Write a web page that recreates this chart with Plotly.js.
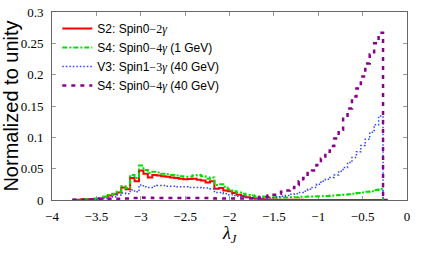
<!DOCTYPE html>
<html><head><meta charset="utf-8">
<script src="https://cdn.plot.ly/plotly-3.0.1.min.js"></script>
<style>html,body{margin:0;padding:0;background:#fff}#chart{width:425px;height:255px}</style>
</head><body><div id="chart"></div>
<script>
// Histogram binning (lambda_J)
const binStart = -3.77;
const binWidth = 0.05;

const seriesNames = [
  "S2: Spin0<span style='font-family:Liberation Serif'>−2<i>γ</i></span>",
  "S4: Spin0<span style='font-family:Liberation Serif'>−4<i>γ</i></span> (1 GeV)",
  "V3: Spin1<span style='font-family:Liberation Serif'>−3<i>γ</i></span> (40 GeV)",
  "S4: Spin0<span style='font-family:Liberation Serif'>−4<i>γ</i></span> (40 GeV)"
];
const xTitle = '<i>λ</i><sub><i>J</i></sub>';
const yTitle = 'Normalized to unity';

const s2Spin0_2g = [
  0.0005,0.0005,0.001,0.001,0.0015,0.002,0.003,0.005,0.007,0.009,
  0.012,0.020,0.017,0.035,0.030,0.047,0.042,0.036,0.040,0.039,
  0.038,0.037,0.036,0.035,0.034,0.033,0.0335,0.034,0.0325,0.031,
  0.028,0.030,0.018,0.019,0.015,0.014,0.011,0.0085,0.0065,0.0045,
  0.003,0.002,0.0015,0.001,0.0008,0.0006,0.0005,0.0004,0.0003,0.0003,
  0.0002,0.0002,0.0001,0.0001,0.0001,0,0,0,0,0,
  0,0,0,0,0,0,0,0,0,0,0
];
const s4Spin0_4g_1GeV = [
  0.0003,0.0005,0.001,0.001,0.0015,0.002,0.003,0.005,0.008,0.010,
  0.013,0.022,0.019,0.040,0.035,0.055,0.048,0.043,0.045,0.044,
  0.042,0.041,0.040,0.039,0.038,0.037,0.037,0.039,0.040,0.038,
  0.034,0.036,0.024,0.025,0.021,0.017,0.014,0.012,0.010,0.008,
  0.007,0.006,0.0055,0.005,0.0045,0.0045,0.004,0.004,0.004,0.0042,
  0.0045,0.005,0.005,0.0055,0.0055,0.006,0.006,0.0065,0.007,0.0075,
  0.008,0.0085,0.009,0.010,0.011,0.012,0.013,0.014,0.016,0.0175,0
];
const v3Spin1_3g_40GeV = [
  0.0002,0.0003,0.0005,0.0005,0.001,0.001,0.0015,0.002,0.003,0.005,
  0.008,0.011,0.010,0.016,0.013,0.024,0.021,0.020,0.022,0.023,
  0.023,0.022,0.022,0.021,0.021,0.021,0.020,0.020,0.020,0.019,
  0.019,0.018,0.012,0.012,0.010,0.0085,0.007,0.006,0.005,0.004,
  0.003,0.0028,0.0025,0.0028,0.0035,0.004,0.005,0.006,0.007,0.009,
  0.010,0.012,0.014,0.017,0.020,0.025,0.030,0.033,0.036,0.040,
  0.046,0.052,0.060,0.068,0.077,0.087,0.097,0.108,0.120,0.134,0
];
const s4Spin0_4g_40GeV = [
  0.0002,0.0003,0.0004,0.0005,0.0008,0.001,0.0012,0.0015,0.0015,0.002,
  0.002,0.0025,0.0025,0.003,0.003,0.004,0.0035,0.0035,0.003,0.003,
  0.003,0.003,0.003,0.003,0.003,0.003,0.003,0.003,0.003,0.003,
  0.003,0.0028,0.0025,0.0025,0.0025,0.0025,0.0025,0.0025,0.0025,0.0025,
  0.0025,0.003,0.004,0.005,0.007,0.0085,0.010,0.013,0.015,0.019,
  0.024,0.030,0.035,0.043,0.047,0.056,0.066,0.077,0.086,0.098,
  0.112,0.132,0.146,0.165,0.178,0.197,0.218,0.232,0.250,0.267,0
];

const xTickVals = [-4,-3.5,-3,-2.5,-2,-1.5,-1,-0.5,0];
const yTickVals = [0,0.05,0.1,0.15,0.2,0.25,0.3];

function stepTrace(vals, name, color, width, dash) {
  const x = [], y = [];
  for (let k = 0; k <= vals.length; k++) {
    x.push(+(binStart + k * binWidth).toFixed(4));
    y.push(k < vals.length ? vals[k] : 0);
  }
  return {type:'scatter', mode:'lines', x, y, name,
    line:{color, width, dash, shape:'hv'}};
}

const traces = [
  stepTrace(s2Spin0_2g, seriesNames[0], '#ff0000', 2, 'solid'),
  stepTrace(s4Spin0_4g_1GeV, seriesNames[1], '#00e000', 2, '5px,2px,2px,2px'),
  stepTrace(v3Spin1_3g_40GeV, seriesNames[2], '#3344ff', 1.5, '1.5px,2px'),
  stepTrace(s4Spin0_4g_40GeV, seriesNames[3], '#8b008b', 2.5, '4px,5px')
];

const tickFont = {family:'Liberation Serif', size:13, color:'#000'};
const layout = {
  width:425, height:255,
  margin:{l:52, r:18, t:12, b:55},
  paper_bgcolor:'#fff', plot_bgcolor:'#fff',
  showlegend:true,
  legend:{x:0.015, y:0.99, xanchor:'left', yanchor:'top', bgcolor:'rgba(0,0,0,0)',
    font:{family:'Liberation Sans', size:12, color:'#000'}, itemwidth:30, tracegroupgap:0},
  xaxis:{range:[-4,0], tickvals:xTickVals, ticks:'inside', ticklen:4, tickcolor:'#999',
    showline:true, linecolor:'#666', linewidth:1, mirror:'ticks', showgrid:false, zeroline:false,
    tickfont:tickFont, ticklabelstandoff:4, layer:'below traces'},
  yaxis:{range:[0,0.3], tickvals:yTickVals, ticks:'inside', ticklen:4, tickcolor:'#999',
    showline:true, linecolor:'#666', linewidth:1, mirror:'ticks', showgrid:false, zeroline:false,
    tickfont:tickFont, ticklabelstandoff:5, layer:'below traces',
    title:{text:yTitle, font:{family:'Liberation Sans', size:20, color:'#000'}, standoff:6}},
  annotations:[{text:xTitle, xref:'paper', yref:'paper', x:0.5, y:-0.115,
    xanchor:'center', yanchor:'top', showarrow:false, borderpad:0,
    font:{family:'Liberation Serif', size:18, color:'#000'}}]
};
Plotly.newPlot('chart', traces, layout, {displayModeBar:false, staticPlot:true});
</script></body></html>
